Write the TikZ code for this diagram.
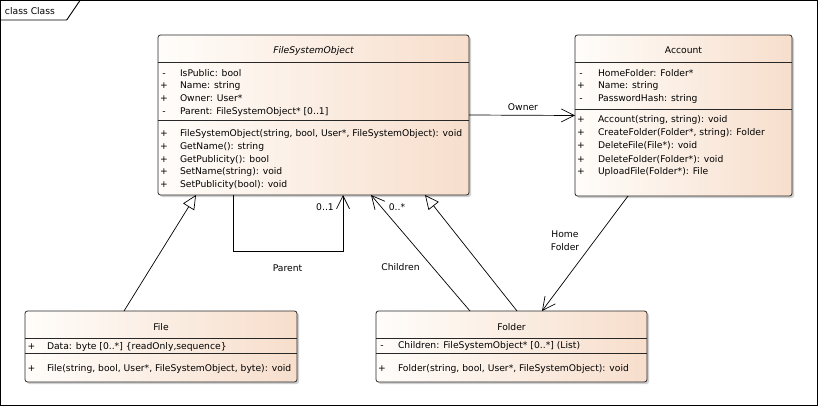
\documentclass[tikz,border=0pt]{standalone}
\usepackage{fontspec}
\setmainfont{DejaVu Sans}
\usetikzlibrary{arrows.meta,calc,shadows}
\definecolor{boxL}{RGB}{255,253,250}
\definecolor{boxR}{RGB}{247,222,204}
\definecolor{lineC}{RGB}{40,40,40}
\begin{document}
\begin{tikzpicture}[x=1pt,y=-1pt,
  every node/.style={font=\fontsize{9.2}{10}\selectfont, inner sep=0pt, outer sep=0pt},
  umlbox/.style={draw=lineC, line width=0.8pt, rounded corners=2.5pt,
    left color=boxL, right color=boxR,
    drop shadow={shadow xshift=2pt, shadow yshift=-2pt, fill=black!30, opacity=0.6}},
  divline/.style={draw=lineC, line width=0.8pt},
  txt/.style={anchor=base west},
  vis/.style={anchor=base},
  ttl/.style={anchor=base},
  assoc/.style={draw=black, line width=0.7pt, -{Straight Barb[length=13pt,width=13pt,line width=0.7pt]}},
  gen/.style={draw=black, line width=0.7pt, -{Triangle[open,length=14pt,width=13pt,fill=white,line width=0.7pt]}},
  lbl/.style={anchor=base}]
\useasboundingbox (0,0) rectangle (818,406);
\fill[white] (0,0) rectangle (818,406);
% frame
\node[draw=black, line width=0.9pt, minimum width=817pt, minimum height=405pt, anchor=north west] (frame) at (0.5,0.5) {};
\node[anchor=base west] (tablabel) at (5,14.5) {class Class};
\draw[line width=0.9pt] (frame.north west |- 0,20) -- (66.7,20) -- (80,0.5);

% FileSystemObject
\node[umlbox, minimum width=311pt, minimum height=160pt] (fso) at (313.5,115) {};
\draw[divline] ($(fso.north west)+(0,27.7)$) -- ($(fso.north east)+(0,27.7)$);
\draw[divline] ($(fso.north west)+(0,85.7)$) -- ($(fso.north east)+(0,85.7)$);
\node[ttl] (fso-t) at (313.5,53.2) {\itshape FileSystemObject};
\node[vis] (fso-v1) at (164,76.2) {-};
\node[txt] (fso-a1) at (180,76.2) {IsPublic: bool};
\node[vis] (fso-v2) at (164,88.8) {+};
\node[txt] (fso-a2) at (180,88.8) {Name: string};
\node[vis] (fso-v3) at (164,101.6) {+};
\node[txt] (fso-a3) at (180,101.6) {Owner: User*};
\node[vis] (fso-v4) at (164,114.4) {-};
\node[txt] (fso-a4) at (180,114.4) {Parent: FileSystemObject* [0..1]};
\node[vis] (fso-v5) at (164,136.2) {+};
\node[txt] (fso-m1) at (180,136.2) {FileSystemObject(string, bool, User*, FileSystemObject): void};
\node[vis] (fso-v6) at (164,149.1) {+};
\node[txt] (fso-m2) at (180,149.1) {GetName(): string};
\node[vis] (fso-v7) at (164,162) {+};
\node[txt] (fso-m3) at (180,162) {GetPublicity(): bool};
\node[vis] (fso-v8) at (164,174.9) {+};
\node[txt] (fso-m4) at (180,174.9) {SetName(string): void};
\node[vis] (fso-v9) at (164,187.8) {+};
\node[txt] (fso-m5) at (180,187.8) {SetPublicity(bool): void};

% Account
\node[umlbox, minimum width=217pt, minimum height=161pt] (acc) at (683.5,115.5) {};
\draw[divline] ($(acc.north west)+(0,27.7)$) -- ($(acc.north east)+(0,27.7)$);
\draw[divline] ($(acc.north west)+(0,74)$) -- ($(acc.north east)+(0,74)$);
\node[ttl] (acc-t) at (683.5,54) {Account};
\node[vis] (acc-v1) at (581,76.2) {-};
\node[txt] (acc-a1) at (598,76.2) {HomeFolder: Folder*};
\node[vis] (acc-v2) at (581,89) {+};
\node[txt] (acc-a2) at (598,89) {Name: string};
\node[vis] (acc-v3) at (581,101.8) {-};
\node[txt] (acc-a3) at (598,101.8) {PasswordHash: string};
\node[vis] (acc-v4) at (581,122.8) {+};
\node[txt] (acc-m1) at (598,122.8) {Account(string, string): void};
\node[vis] (acc-v5) at (581,136) {+};
\node[txt] (acc-m2) at (598,136) {CreateFolder(Folder*, string): Folder};
\node[vis] (acc-v6) at (581,149) {+};
\node[txt] (acc-m3) at (598,149) {DeleteFile(File*): void};
\node[vis] (acc-v7) at (581,162) {+};
\node[txt] (acc-m4) at (598,162) {DeleteFolder(Folder*): void};
\node[vis] (acc-v8) at (581,175) {+};
\node[txt] (acc-m5) at (598,175) {UploadFile(Folder*): File};

% File
\node[umlbox, minimum width=272pt, minimum height=71pt] (file) at (161,346.5) {};
\draw[divline] ($(file.north west)+(0,27)$) -- ($(file.north east)+(0,27)$);
\draw[divline] ($(file.north west)+(0,42)$) -- ($(file.north east)+(0,42)$);
\node[ttl] (file-t) at (161,330) {File};
\node[vis] (file-v1) at (31.5,349.2) {+};
\node[txt] (file-a1) at (47,349.2) {Data: byte [0..*] \{readOnly,sequence\}};
\node[vis] (file-v2) at (31.5,371.8) {+};
\node[txt] (file-m1) at (47,371.8) {File(string, bool, User*, FileSystemObject, byte): void};

% Folder
\node[umlbox, minimum width=271pt, minimum height=71pt] (folder) at (511.5,346.5) {};
\draw[divline] ($(folder.north west)+(0,27)$) -- ($(folder.north east)+(0,27)$);
\draw[divline] ($(folder.north west)+(0,42)$) -- ($(folder.north east)+(0,42)$);
\node[ttl] (folder-t) at (511.5,330.5) {Folder};
\node[vis] (folder-v1) at (382,348.8) {-};
\node[txt] (folder-a1) at (398,348.8) {Children: FileSystemObject* [0..*] (List)};
\node[vis] (folder-v2) at (382,371.8) {+};
\node[txt] (folder-m1) at (398,371.8) {Folder(string, bool, User*, FileSystemObject): void};

% connectors
\draw[assoc] (fso.east) -- (acc.west);
\node[lbl] (owner-l) at (523,110.7) {Owner};

\draw[assoc] ($(fso.south west)+(75,0)$) -- ++(0,56) -| ($(fso.south west)+(185,0)$);
\node[lbl] (parent-m) at (325,210.5) {0..1};
\node[lbl] (parent-l) at (287.5,271.5) {Parent};

\draw[assoc] ($(folder.north west)+(94,0)$) -- ($(fso.south west)+(213,0)$);
\node[lbl] (children-m) at (397,210.5) {0..*};
\node[lbl] (children-l) at (400.5,270.5) {Children};

\draw[gen] ($(folder.north west)+(141,0)$) -- ($(fso.south west)+(267,0)$);
\draw[gen] ($(file.north west)+(99,0)$) -- ($(fso.south west)+(38,0)$);

\draw[assoc] ($(acc.south west)+(53,0)$) -- ($(folder.north west)+(166,0)$);
\node[lbl, align=center, font=\fontsize{9.2}{13}\selectfont] (home-l) at (565,250.5) {Home\\Folder};
\end{tikzpicture}
\end{document}
